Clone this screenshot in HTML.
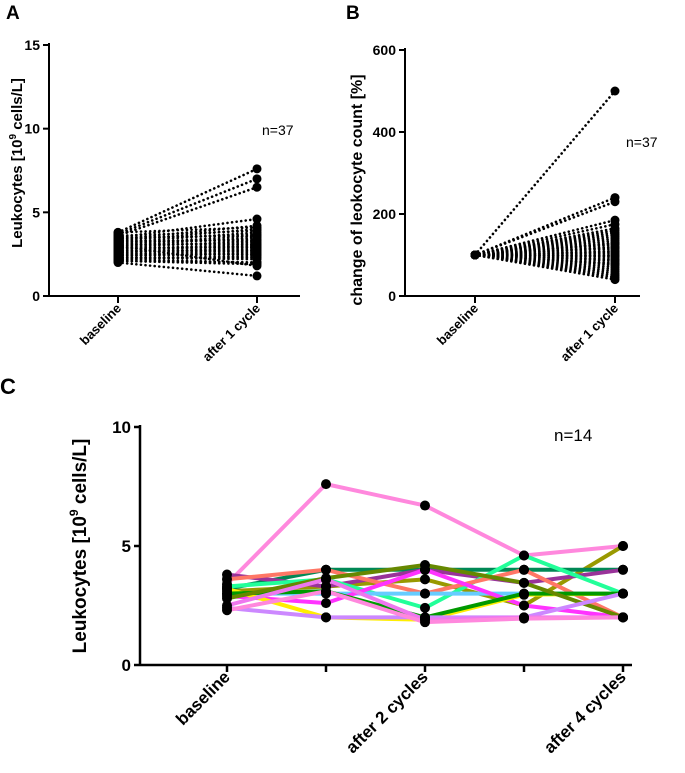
<!DOCTYPE html>
<html><head><meta charset="utf-8"><style>
body{margin:0;background:#fff;}
svg{display:block;font-family:"Liberation Sans",Arial,sans-serif;}
</style></head><body>
<svg id="fig" width="685" height="773" viewBox="0 0 685 773">
<text x="6" y="19" font-size="19" font-weight="bold">A</text>
<text x="346" y="19" font-size="19" font-weight="bold">B</text>
<text x="0" y="394" font-size="22" font-weight="bold">C</text>
<g id="ga"></g>
<g id="gb"></g>
<g id="gc"></g>
</svg>
<script>
const catsAB=["baseline","after 1 cycle"];
const aBase=[3.8,3.7,3.6,3.5,3.4,3.3,3.2,3.1,3.0,2.9,2.8,2.7,2.6,2.5,2.4,2.3,2.2,2.1,2.0,3.8,3.6,3.4,3.2,3.0,2.8,2.6,2.4,2.2,3.5,3.3,3.1,2.9,2.7,2.5,2.3,2.1,3.0];
const aAfter=[7.6,7.0,6.5,4.6,4.2,4.0,3.8,3.6,3.5,3.3,3.1,3.0,2.9,2.7,2.5,2.3,2.0,1.9,1.2,4.1,3.9,3.7,3.4,3.2,3.0,2.8,2.6,2.4,3.6,3.3,3.1,2.9,2.7,2.5,2.2,2.0,1.8];
const bBase=new Array(37).fill(100);
const bAfter=[500,240,230,185,175,165,160,150,140,135,130,125,120,115,110,105,100,95,90,85,80,75,70,65,60,55,50,45,40,145,155,128,118,108,98,88,78];
const aTicks=[0,5,10,15];
const bTicks=[0,200,400,600];
const catsC=["baseline","","after 2 cycles","","after 4 cycles"];
const cTicks=[0,5,10];
const cColors=["#ff88dd","#999900","#008855","#993399","#22ff99","#ff7766","#66ccff","#ff33ff","#ffee00","#009900","#668800","#cc88ff","#ee77ee","#ff88dd"];
const s1=[3.4,7.6,6.7,4.6,5.0];
const s2=[3.1,3.3,3.6,2.5,5.0];
const s3=[3.2,4.0,4.0,4.0,4.0];
const s4=[3.8,3.3,4.0,3.45,4.0];
const s5=[3.3,3.6,2.4,4.6,3.0];
const s6=[3.6,4.0,3.0,4.0,2.0];
const s7=[3.0,3.0,3.0,3.0,3.0];
const s8=[2.9,2.6,4.0,2.5,2.0];
const s9=[3.2,2.0,1.9,2.95,3.0];
const s10=[3.0,3.1,2.0,3.0,3.0];
const s11=[2.8,3.65,4.2,3.45,2.0];
const s12=[2.4,2.0,2.0,2.0,3.0];
const s13=[2.5,3.6,1.9,2.0,2.0];
const s14=[2.3,3.1,1.8,1.95,2.0];
const cSeries=[s1,s2,s3,s4,s5,s6,s7,s8,s9,s10,s11,s12,s13,s14];

const NS="http://www.w3.org/2000/svg";
function mk(p,tag,at){const e=document.createElementNS(NS,tag);for(const k in at)e.setAttribute(k,at[k]);p.appendChild(e);return e;}

function axes(g,o){
  const y=v=>o.y0-(v-o.min)/(o.max-o.min)*(o.y0-o.y1);
  const yl=mk(g,'line',{x1:o.ax,y1:o.y1-2,x2:o.ax,y2:o.y0,stroke:'#000','stroke-width':o.lw});
  
  
  const xl=mk(g,'line',{x1:o.ax,y1:o.y0,x2:o.xend,y2:o.y0,stroke:'#000','stroke-width':o.lw});
  
  
  o.ticks.forEach(t=>{
    mk(g,'line',{x1:o.ax-6,y1:y(t),x2:o.ax,y2:y(t),stroke:'#000','stroke-width':o.lw});
    const tx=mk(g,'text',{x:o.ax-9,y:y(t)+o.fs*0.36,'text-anchor':'end','font-size':o.fs,'font-weight':'bold'});
    tx.textContent=t;
    
    
  });
  o.xs.forEach((x,i)=>{
    mk(g,'line',{x1:x,y1:o.y0,x2:x,y2:o.y0+7,stroke:'#000','stroke-width':o.lw});
    if(o.cats[i]){
      const tx=mk(g,'text',{x:x+4,y:o.y0+13,'text-anchor':'end','font-size':o.xfs,'font-weight':'bold',transform:`rotate(-45 ${x+4} ${o.y0+13})`});
      tx.textContent=o.cats[i];
      
      
    }
  });
  return y;
}

function pairPanel(g,o,base,after){
  const y=axes(g,o);
  base.forEach((b,i)=>{
    const l=mk(g,'line',{x1:o.xs[0],y1:y(b),x2:o.xs[1],y2:y(after[i]),stroke:'#000','stroke-width':2.6,'stroke-dasharray':'0.1 4.5','stroke-linecap':'round'});
    
    
  });
  base.forEach((b,i)=>{
    [[o.xs[0],b],[o.xs[1],after[i]]].forEach(p=>{
      const c=mk(g,'circle',{cx:p[0],cy:y(p[1]),r:4.5,fill:'#000'});
      
      
    });
  });
}

const ga=document.getElementById('ga');
pairPanel(ga,{ax:49,y0:296,y1:45,min:0,max:15,xend:300,ticks:aTicks,xs:[118,257],cats:catsAB,fs:14,xfs:13,lw:2},aBase,aAfter);
let t=mk(ga,'text',{x:0,y:0,'font-size':15,'font-weight':'bold','text-anchor':'middle',transform:'translate(22,163) rotate(-90)'});
t.innerHTML='Leukocytes [10<tspan font-size="10" dy="-6">9</tspan><tspan dy="6"> cells/L]</tspan>';


t=mk(ga,'text',{x:262,y:135,'font-size':14});t.textContent='n=37';



const gb=document.getElementById('gb');
pairPanel(gb,{ax:405,y0:296,y1:50,min:0,max:600,xend:640,ticks:bTicks,xs:[475,615],cats:catsAB,fs:14,xfs:13,lw:2},bBase,bAfter);
t=mk(gb,'text',{x:0,y:0,'font-size':16,'font-weight':'bold','text-anchor':'middle',transform:'translate(362,190) rotate(-90)'});
t.textContent='change of leokocyte count  [%]';


t=mk(gb,'text',{x:626,y:147,'font-size':14});t.textContent='n=37';



const gc=document.getElementById('gc');
const xsC=[227,326,425,524,623];
const yc=axes(gc,{ax:140,y0:665,y1:427,min:0,max:10,xend:632,ticks:cTicks,xs:xsC,cats:catsC,fs:17,xfs:17,lw:2.5});
cSeries.forEach((s,i)=>{
  const pl=mk(gc,'polyline',{points:s.map((v,j)=>xsC[j]+','+yc(v)).join(' '),fill:'none',stroke:cColors[i],'stroke-width':4,'stroke-linejoin':'round'});
  
  
});
cSeries.forEach(s=>s.forEach((v,j)=>{
  const c=mk(gc,'circle',{cx:xsC[j],cy:yc(v),r:5,fill:'#000'});
  
  
}));
t=mk(gc,'text',{x:0,y:0,'font-size':19,'font-weight':'bold','text-anchor':'middle',transform:'translate(86,546) rotate(-90)'});
t.innerHTML='Leukocytes [10<tspan font-size="12" dy="-8">9</tspan><tspan dy="8"> cells/L]</tspan>';


t=mk(gc,'text',{x:554,y:441,'font-size':17});t.textContent='n=14';


</script>
</body></html>
